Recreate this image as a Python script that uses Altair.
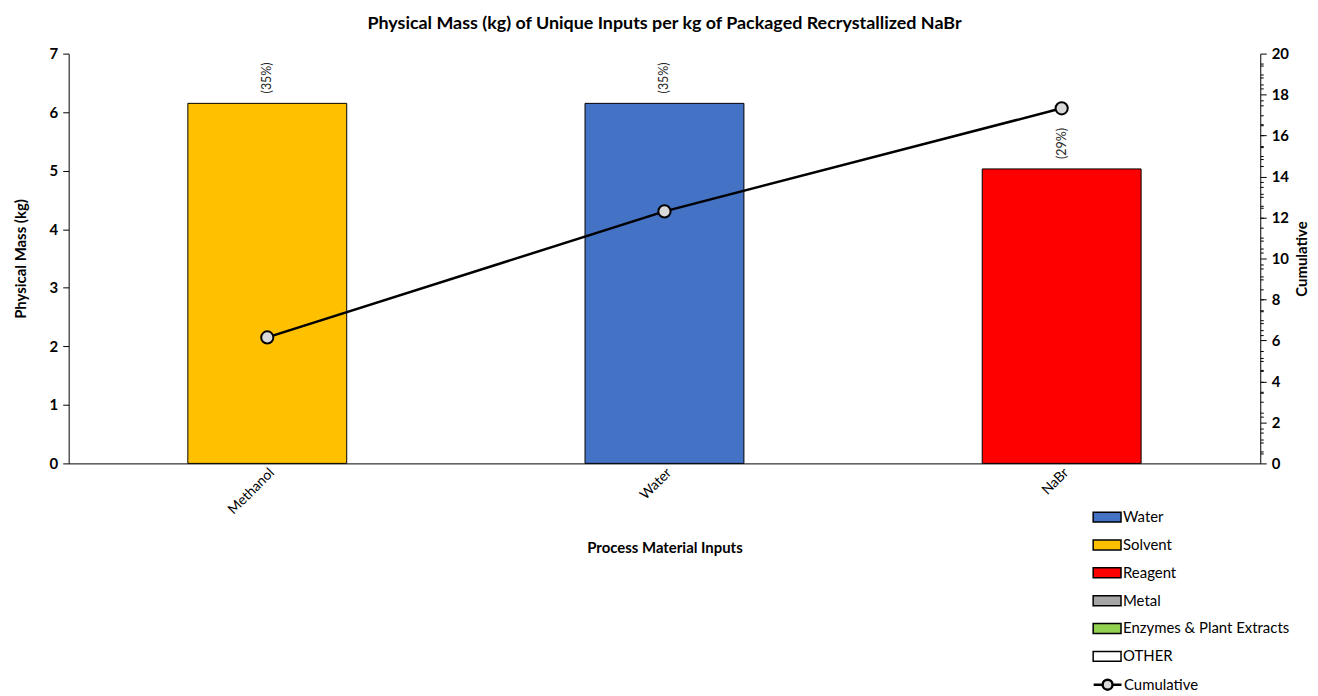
import altair as alt
import pandas as pd

materials = ["Methanol", "Water", "NaBr"]
mass_kg = [6.15, 6.15, 5.03]
categories = ["Solvent", "Water", "Reagent"]
cumulative = [6.15, 12.30, 17.33]
pct_labels = ["(35%)", "(35%)", "(29%)"]
series_name = ["Cumulative", "Cumulative", "Cumulative"]

legend_names = ["Water", "Solvent", "Reagent", "Metal", "Enzymes & Plant Extracts", "OTHER"]
legend_colors = ["#4472C4", "#FFC000", "#FF0000", "#A5A5A5", "#92D050", "#FFFFFF"]

left_major = [0, 1, 2, 3, 4, 5, 6, 7]
left_minor = [round(i * 0.2, 2) for i in range(36) if i % 5 != 0]
right_major = [0, 2, 4, 6, 8, 10, 12, 14, 16, 18, 20]
right_minor = [i * 0.5 for i in range(41) if i % 4 != 0]

FONT = "Lato"
TXT = "#000000"

df = pd.DataFrame({
    "material": materials,
    "mass": mass_kg,
    "category": categories,
    "cumulative": cumulative,
    "pct": pct_labels,
    "series": series_name,
})

RECT = "M-1.4,-0.5H1.4V0.5H-1.4Z"
CUM = "M-1.4,0H-0.5M0.5,0H1.4M0.5,0A0.5,0.5,0,1,1,-0.5,0A0.5,0.5,0,1,1,0.5,0"

LEG_X = 1033
LEG_Y = 455
ROW = 28

x_enc = alt.X(
    "material:N", sort=materials,
    scale=alt.Scale(paddingInner=0.6, paddingOuter=0.3),
    axis=alt.Axis(title="Process Material Inputs", labelAngle=-45, ticks=False,
                  domainColor="black", domainWidth=1, labelFont=FONT, labelFontSize=14,
                  labelColor=TXT, labelPadding=2, titleFont=FONT, titleFontSize=15,
                  titleFontWeight="bold", titleColor=TXT, titlePadding=24),
)

base = alt.Chart(df)

bars = base.mark_bar(stroke="black", strokeWidth=1).encode(
    x=x_enc,
    y=alt.Y("mass:Q", scale=alt.Scale(domain=[0, 7], nice=False),
            axis=alt.Axis(values=left_major, title="Physical Mass (kg)", grid=False,
                          tickSize=6, tickColor="black", domainColor="black",
                          labelFont=FONT, labelFontSize=15, labelFontWeight="bold",
                          labelColor=TXT, labelPadding=5, titleFont=FONT, titleFontSize=15,
                          titleFontWeight="bold", titleColor=TXT, titlePadding=21)),
    color=alt.Color("category:N",
                    scale=alt.Scale(domain=legend_names, range=legend_colors),
                    legend=alt.Legend(
                        title=None, orient="none", legendX=LEG_X, legendY=LEG_Y,
                        symbolType=RECT, symbolSize=400, symbolStrokeColor="black",
                        symbolStrokeWidth=1.5, symbolOpacity=1,
                        labelFont=FONT, labelFontSize=15, labelColor=TXT, labelLimit=300,
                        labelOffset=5, rowPadding=ROW - 19, padding=0,
                    )),
)

labels = base.mark_text(angle=270, align="left", baseline="middle", dx=10,
                        font=FONT, fontSize=12.5, color="#262626").encode(
    x=x_enc,
    y=alt.Y("mass:Q", scale=alt.Scale(domain=[0, 7], nice=False),
            axis=alt.Axis(values=left_minor, labels=False, domain=False, title=None,
                          grid=False, tickSize=3, tickColor="black")),
    text="pct:N",
)

line = base.mark_line(color="black", strokeWidth=2.5).encode(
    x=x_enc,
    y=alt.Y("cumulative:Q", scale=alt.Scale(domain=[0, 20], nice=False),
            axis=alt.Axis(orient="right", values=right_major, title="Cumulative", grid=False,
                          tickSize=6, tickColor="black", domainColor="black",
                          labelFont=FONT, labelFontSize=15, labelFontWeight="bold",
                          labelColor=TXT, labelPadding=5, titleFont=FONT, titleFontSize=15,
                          titleFontWeight="bold", titleColor=TXT, titlePadding=6,
                          titleAngle=270, titleBaseline="top")),
)

points = base.mark_point(filled=True, fill="#D9D9D9", strokeWidth=2,
                         size=150, opacity=1).encode(
    x=x_enc,
    y=alt.Y("cumulative:Q", scale=alt.Scale(domain=[0, 20], nice=False),
            axis=alt.Axis(orient="right", values=right_minor, labels=False, domain=False,
                          title=None, grid=False, tickSize=3, tickColor="black")),
    stroke=alt.Stroke("series:N", scale=alt.Scale(domain=["Cumulative"], range=["black"]),
                      legend=alt.Legend(
                          title=None, orient="none", legendX=LEG_X, legendY=LEG_Y + 6 * ROW,
                          symbolType=CUM, symbolSize=400, symbolStrokeWidth=2.5,
                          symbolFillColor="white", symbolOpacity=1,
                          labelFont=FONT, labelFontSize=15, labelColor=TXT,
                          labelOffset=5, padding=0,
                      )),
)

chart = alt.layer(bars, labels, line, points).resolve_scale(y="independent").properties(
    width=1198, height=412,
    padding={"left": 5, "top": 5, "right": 0, "bottom": 0},
    title=alt.TitleParams("Physical Mass (kg) of Unique Inputs per kg of Packaged Recrystallized NaBr",
                          font=FONT, fontSize=18, fontWeight="bold", color=TXT,
                          anchor="middle", offset=14),
).configure_view(stroke=None)

chart.save("out.html", embed_options={"renderer": "svg", "actions": False})
